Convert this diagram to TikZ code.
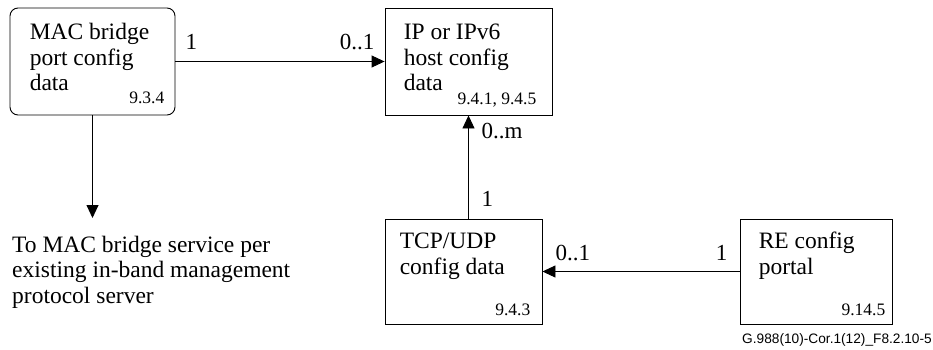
\documentclass[tikz,border=0pt]{standalone}
\usepackage{fontspec}
\setmainfont{Liberation Serif}
\newfontfamily\figidfont{Liberation Sans}
\usetikzlibrary{positioning,arrows.meta}

\begin{document}
\begin{tikzpicture}[x=1pt, y=-1pt,
    entity/.style={draw, line width=0.9pt, inner sep=0pt, minimum height=105pt},
    title/.style={anchor=base west, inner sep=0pt, align=left, font=\fontsize{23.5}{25.5}\selectfont},
    clause/.style={anchor=base east, inner sep=0pt, font=\fontsize{17.5}{20}\selectfont},
    mult/.style={inner sep=0pt, font=\fontsize{23}{25}\selectfont},
    conn/.style={line width=0.9pt, -{Triangle[length=13pt, width=12pt]}}]

    \useasboundingbox (0,0) rectangle (933,350);

    \node[entity, rounded corners=8pt, minimum width=165pt, minimum height=107pt] (MAC bridge) at (92.5,61.5) {};
    \node[entity, minimum width=167pt, minimum height=107pt] (IP host) at (468.5,61.5) {};
    \node[entity, minimum width=157pt] (TCP UDP) at (463.5,271.5) {};
    \node[entity, minimum width=152pt] (RE portal) at (816,271.5) {};

    \node[title] (MAC bridge title) at ([shift={(20,83)}]MAC bridge.north west) {MAC bridge\\port config\\data};
    \node[title] (IP host title) at ([shift={(19,83)}]IP host.north west) {IP or IPv6\\host config\\data};
    \node[title] (TCP UDP title) at ([shift={(15,55.5)}]TCP UDP.north west) {TCP/UDP\\config data};
    \node[title] (RE portal title) at ([shift={(19,55.5)}]RE portal.north west) {RE config\\portal};

    \node[clause] (MAC bridge ref) at ([shift={(-11,-12)}]MAC bridge.south east) {9.3.4};
    \node[clause] (IP host ref) at ([shift={(-16,-11)}]IP host.south east) {9.4.1, 9.4.5};
    \node[clause] (TCP UDP ref) at ([shift={(-12,-9)}]TCP UDP.south east) {9.4.3};
    \node[clause] (RE portal ref) at ([shift={(-7,-9)}]RE portal.south east) {9.14.5};

    \coordinate (to server) at (92.5,218);
    \node[title] (server text) at (12,303) {To MAC bridge service per\\existing in-band management\\protocol server};

    \draw[conn] (MAC bridge.east) -- (IP host.west);
    \draw[conn] (MAC bridge.south) -- (to server);
    \draw[conn] (IP host.south |- TCP UDP.north) -- (IP host.south);
    \draw[conn] (RE portal.west) -- (TCP UDP.east);

    \node[mult, anchor=base west] (m1) at ([shift={(10,-11.5)}]MAC bridge.east) {1};
    \node[mult, anchor=base east] (m2) at ([shift={(-10,-11.5)}]IP host.west) {0..1};
    \node[mult, anchor=base west] (m3) at ([shift={(13,23)}]IP host.south) {0..m};
    \node[mult, anchor=base west] (m4) at ([shift={(13,-12)}]IP host.south |- TCP UDP.north) {1};
    \node[mult, anchor=base west] (m5) at ([shift={(13,-11.5)}]TCP UDP.east) {0..1};
    \node[mult, anchor=base east] (m6) at ([shift={(-12,-11.5)}]RE portal.west) {1};

    \node[anchor=base east, inner sep=0pt, font=\figidfont\fontsize{13.7}{16}\selectfont] (fig id) at (932,343) {G.988(10)-Cor.1(12)\_F8.2.10-5};

\end{tikzpicture}
\end{document}
